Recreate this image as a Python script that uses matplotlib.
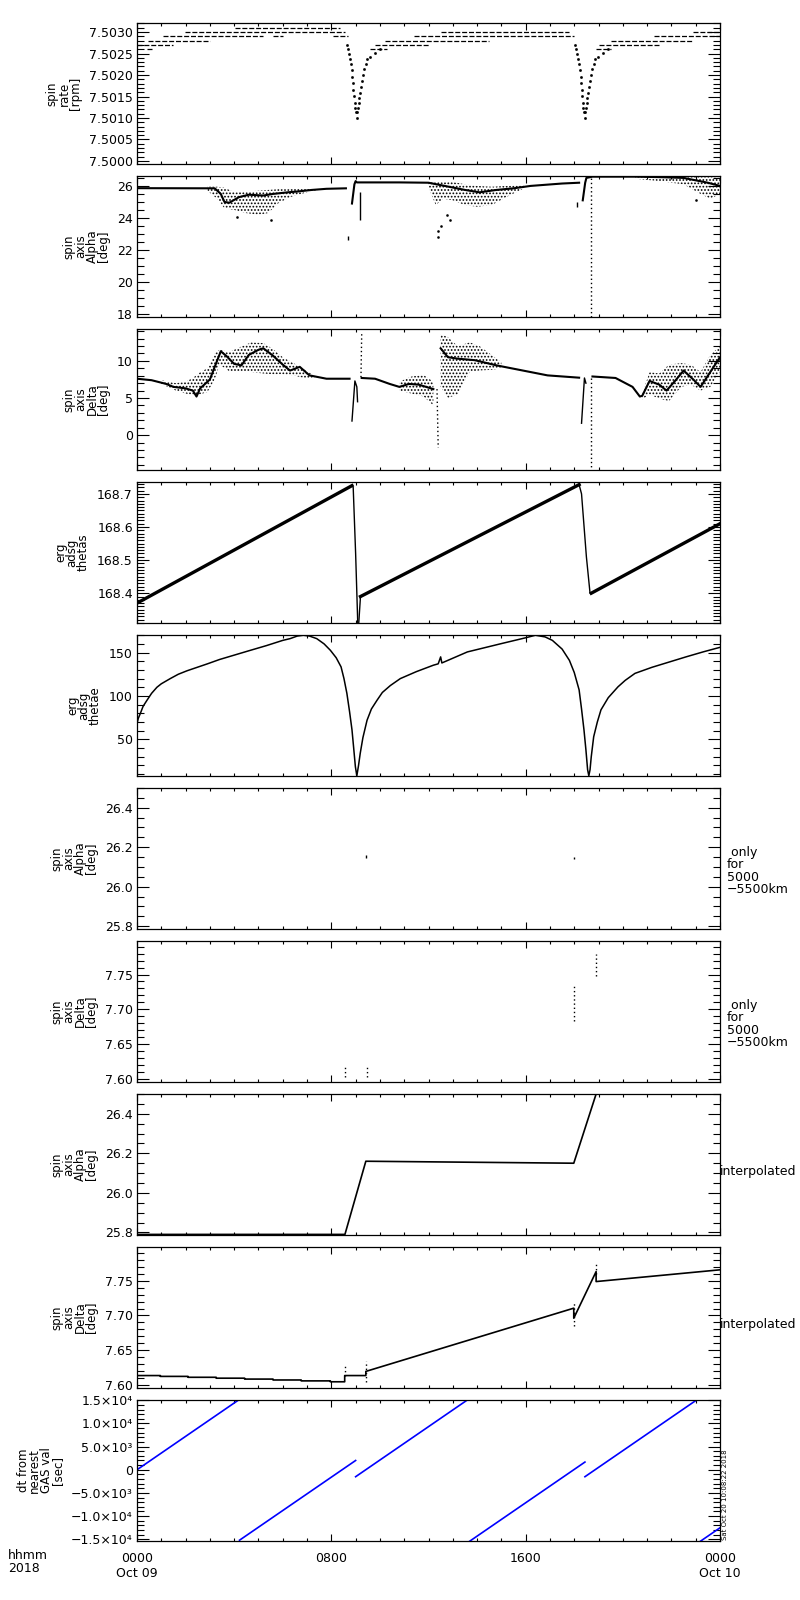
import numpy as np
import matplotlib
matplotlib.use('Agg')
import matplotlib.pyplot as plt
from matplotlib.ticker import MultipleLocator, FixedLocator, FixedFormatter, FormatStrFormatter

plt.rcParams['font.family'] = ['DejaVu Sans']
plt.rcParams['hatch.linewidth'] = 0.8
plt.rcParams['hatch.color'] = 'black'

# time axis in hours from 0000 Oct 09
x_ticks = [0, 8, 16, 24]
x_ticklabels = ['0000\nOct 09', '0800', '1600', '0000\nOct 10']

# ---- panel 1: spin rate (quantized levels: value, start, end)
rate_level = [7.5026, 7.5027, 7.5028, 7.5029, 7.5029, 7.5029, 7.5030, 7.5031,
              7.5026, 7.5027, 7.5028, 7.5029, 7.5030,
              7.5026, 7.5027, 7.5028, 7.5029, 7.5030]
rate_t0 = [0.4, 0.0, 0.47, 1.08, 5.6, 8.08, 1.98, 4.04,
           9.6, 9.8, 10.2, 11.4, 12.5,
           18.9, 19.0, 19.5, 21.3, 22.9]
rate_t1 = [0.67, 1.49, 3.0, 5.2, 6.0, 8.7, 8.56, 8.36,
           10.3, 12.0, 14.5, 18.0, 17.8,
           19.5, 21.5, 22.9, 24.0, 24.0]
dip1_t = [8.63, 8.70, 8.74, 8.77, 8.80, 8.84, 8.87, 8.88, 8.91, 8.93, 8.96, 8.97, 9.00, 9.04,
          9.07, 9.10, 9.13, 9.15, 9.18, 9.22, 9.26, 9.32, 9.36, 9.41, 9.45, 9.59, 9.80, 10.0]
dip2_t = [18.02, 18.09, 18.13, 18.16, 18.19, 18.23, 18.26, 18.27, 18.30, 18.32, 18.35, 18.36, 18.39, 18.43,
          18.46, 18.49, 18.52, 18.54, 18.57, 18.61, 18.65, 18.71, 18.75, 18.80, 18.84, 18.98, 19.19, 19.39]
dip_v = [7.50270, 7.50260, 7.50249, 7.50237, 7.50226, 7.50211, 7.50196, 7.50181, 7.50166, 7.50151,
         7.50135, 7.50124, 7.50113, 7.50101, 7.50113, 7.50124, 7.50135, 7.50147, 7.50158, 7.50173,
         7.50185, 7.50200, 7.50215, 7.50226, 7.50237, 7.50241, 7.50252, 7.50260]

# ---- panel 2: spin axis alpha
alpha_t1 = [0, 3.2, 3.45, 3.6, 3.8, 4.2, 4.6, 5.2, 5.6, 6.2, 6.6, 7.2, 7.8, 8.6]
alpha_v1 = [25.86, 25.85, 25.5, 25.0, 24.95, 25.3, 25.45, 25.4, 25.5, 25.6, 25.65, 25.75, 25.82, 25.85]
alpha_t2 = [8.85, 8.95, 9.0, 9.05, 9.2, 10.8, 12.0, 12.5, 13.0, 13.5, 14.1, 14.8, 15.5, 16.2, 17.5, 18.2]
alpha_v2 = [24.9, 26.1, 26.3, 26.22, 26.22, 26.22, 26.2, 26.05, 25.9, 25.75, 25.6, 25.75, 25.85, 26.0, 26.15, 26.2]
alpha_t3 = [18.35, 18.45, 18.5, 18.75, 20.5, 21.5, 22.5, 23.5, 24.0]
alpha_v3 = [25.1, 26.2, 26.5, 26.58, 26.58, 26.55, 26.5, 26.2, 26.0]
alpha_cloud_t = [[2.9, 3.3, 3.6, 4.0, 4.5, 5.0, 5.4, 5.8, 6.3, 7.0, 7.6],
                 [12.0, 12.3, 12.6, 13.0, 13.5, 14.0, 14.6, 15.2, 16.0],
                 [20.5, 21.5, 22.5, 23.2, 23.6, 24.0]]
alpha_cloud_lo = [[25.7, 25.2, 24.6, 24.5, 24.3, 24.2, 24.3, 24.9, 25.3, 25.6, 25.8],
                  [25.9, 24.8, 25.2, 25.1, 24.8, 24.7, 24.8, 25.3, 25.9],
                  [26.45, 26.3, 26.1, 25.5, 25.2, 25.5]]
alpha_cloud_hi = [[25.95, 25.95, 25.9, 25.6, 25.65, 25.7, 25.75, 25.8, 25.8, 25.85, 25.86],
                  [26.25, 26.25, 26.3, 26.25, 26.1, 26.0, 25.95, 26.0, 26.05],
                  [26.62, 26.62, 26.62, 26.62, 26.55, 26.5]]
alpha_stray_t = [4.1, 5.5, 12.4, 12.4, 12.5, 12.75, 12.9, 23.0]
alpha_stray_v = [24.05, 23.9, 22.8, 23.2, 23.5, 24.2, 23.9, 25.1]
alpha_spike_t = [8.7, 9.2, 18.1]
alpha_spike_lo = [22.6, 23.9, 24.7]
alpha_spike_hi = [22.9, 25.6, 25.0]

# ---- panel 3: spin axis delta
delta_t1 = [0, 0.6, 1.2, 1.5, 2.0, 2.3, 2.45, 2.6, 3.0, 3.2, 3.45, 3.7, 4.0, 4.3, 4.6, 5.0, 5.2,
            5.6, 6.0, 6.3, 6.7, 7.1, 7.8, 8.75]
delta_v1 = [7.6, 7.4, 6.9, 6.5, 6.3, 6.0, 5.2, 6.3, 7.5, 9.2, 11.3, 10.6, 9.6, 9.4, 10.8, 11.5, 11.7,
            10.7, 9.5, 8.7, 9.2, 8.05, 7.6, 7.6]
delta_t2 = [9.25, 9.8, 10.4, 10.8, 11.2, 11.6, 12.0, 12.2]
delta_v2 = [7.7, 7.6, 6.9, 6.5, 6.9, 6.8, 6.4, 6.2]
delta_t3 = [12.5, 12.8, 13.2, 13.9, 14.8, 16.2, 16.9, 18.2]
delta_v3 = [11.7, 10.5, 10.3, 10.1, 9.4, 8.5, 8.05, 7.74]
delta_t4 = [18.75, 19.7, 20.4, 20.7, 20.8, 21.1, 21.5, 21.8, 22.2, 22.5, 22.9, 23.2, 23.6, 24.0]
delta_v4 = [7.9, 7.7, 6.5, 5.2, 5.3, 7.3, 6.8, 6.0, 7.5, 8.7, 7.5, 6.5, 8.5, 10.5]
delta_kick_t = [[8.85, 8.97, 9.05, 9.08], [18.3, 18.42, 18.48]]
delta_kick_v = [[1.9, 7.3, 6.5, 4.5], [1.6, 7.7, 7.0]]
delta_dot_t = [[9.22, 9.25], [12.35, 12.4], [18.7, 18.7]]
delta_dot_v = [[7.8, 13.6], [6.2, -1.7], [7.7, -4.7]]
delta_cloud_t = [[1.0, 1.6, 2.0, 2.3, 2.6, 2.9, 3.2, 3.4, 3.8, 4.2, 4.7, 5.2, 5.6, 6.0, 6.5, 7.0, 7.3],
                 [10.8, 11.3, 11.8, 12.2],
                 [12.5, 12.8, 13.2, 13.7, 14.1, 14.6, 15.0],
                 [20.8, 21.1, 21.5, 21.9, 22.4, 22.8, 23.2, 23.6, 24.0]]
delta_cloud_lo = [[6.9, 6.0, 5.6, 5.4, 5.5, 5.8, 7.5, 9.5, 8.6, 8.6, 8.5, 8.3, 8.2, 8.2, 8.0, 7.6, 7.6],
                  [6.0, 5.6, 5.2, 4.0],
                  [6.5, 5.0, 5.5, 8.5, 8.7, 8.8, 9.0],
                  [4.8, 5.5, 4.9, 4.6, 6.5, 6.8, 6.0, 6.5, 8.5]]
delta_cloud_hi = [[7.4, 7.0, 7.2, 7.7, 8.5, 9.0, 11.0, 11.5, 11.2, 11.8, 12.5, 12.4, 11.6, 10.5, 9.6, 8.6, 8.0],
                  [7.2, 7.9, 8.1, 7.2],
                  [13.6, 13.2, 12.0, 12.5, 12.0, 10.8, 9.8],
                  [5.6, 8.5, 8.3, 9.5, 9.7, 9.5, 8.5, 10.8, 12.0]]

# ---- panel 4: erg adsg thetas
thetas_rise_t = [[0, 8.85], [9.2, 18.2], [18.7, 24.0]]
thetas_rise_v = [[168.37, 168.725], [168.39, 168.728], [168.40, 168.61]]
thetas_drop_t = [[8.85, 8.9, 9.0, 9.1], [9.12, 9.2], [18.2, 18.3, 18.5, 18.65, 18.7]]
thetas_drop_v = [[168.725, 168.72, 168.52, 168.28], [168.30, 168.39], [168.728, 168.70, 168.51, 168.40, 168.40]]

# ---- panel 5: erg adsg thetae
thetae_t = [0, 0.05, 0.14, 0.25, 0.41, 0.6, 0.82, 1.0, 1.37, 1.7, 2.06, 2.9, 3.4, 4.0, 4.6, 5.33,
            6.0, 6.3, 6.6, 6.85, 7.1, 7.4, 7.7, 7.96, 8.2, 8.4, 8.52, 8.64, 8.75, 8.85, 8.92, 8.99,
            9.05, 9.12, 9.19, 9.3, 9.47, 9.65, 9.88, 10.1, 10.43, 10.84, 11.5, 12.2, 12.4, 12.5,
            12.55, 13.6, 15.0, 16.0, 16.4, 16.8, 17.1, 17.5, 17.8, 18.0, 18.2, 18.3, 18.4, 18.48,
            18.55, 18.6, 18.65, 18.7, 18.8, 18.95, 19.1, 19.4, 19.8, 20.1, 20.5, 21.2, 21.9, 22.6,
            23.3, 24.0]
thetae_v = [68, 74, 80, 88, 95, 103, 110, 114, 120, 125, 129, 137, 142, 147, 152, 158,
            164, 166, 169, 169.9, 169, 166, 160, 152.6, 144, 133.5, 120, 103, 82, 61, 40, 18.5,
            8, 20, 34, 52, 72, 85, 95, 104, 112, 120, 128, 135.4, 137, 145,
            138, 150.7, 160.3, 167, 169.9, 168, 164, 154, 141, 127, 107, 85, 61, 38,
            15, 8, 15, 30, 53, 70, 84, 98, 110.5, 118, 126, 133, 139, 145,
            150.7, 156]

# ---- panels 6/7: only for 5000-5500 km
alpha_only_t = [9.42, 18.0]
alpha_only_lo = [26.145, 26.14]
alpha_only_hi = [26.16, 26.15]
delta_only_t = [8.55, 9.45, 17.98, 18.9]
delta_only_lo = [7.603, 7.603, 7.684, 7.748]
delta_only_hi = [7.617, 7.62, 7.734, 7.78]

# ---- panel 8/9: interpolated
alpha_int_t = [0, 8.56, 9.42, 17.98, 18.9, 24.0]
alpha_int_v = [25.79, 25.79, 26.16, 26.15, 26.5, 26.5]
delta_int_t = [0, 0.96, 0.96, 2.1, 2.1, 3.26, 3.26, 4.43, 4.43, 5.6, 5.6, 6.76, 6.76, 7.96, 7.96, 8.55,
               8.55, 9.42, 9.42, 17.98, 17.98, 18.9, 18.9, 24.0]
delta_int_v = [7.613, 7.613, 7.6118, 7.6118, 7.6105, 7.6105, 7.6092, 7.6092, 7.6079, 7.6079, 7.6066,
               7.6066, 7.6053, 7.6053, 7.604, 7.604, 7.613, 7.613, 7.619, 7.7105, 7.696, 7.7634,
               7.749, 7.766]
delta_int_spk_t = [8.55, 9.42, 17.98, 18.9]
delta_int_spk_lo = [7.612, 7.603, 7.684, 7.76]
delta_int_spk_hi = [7.628, 7.634, 7.72, 7.775]

# ---- panel 10: dt from nearest GAS val
dt_seg_t = [[0, 4.2], [4.22, 9.0], [9.0, 13.65], [13.7, 18.44], [18.44, 23.1], [23.2, 24.0]]
dt_seg_v = [[0, 15120], [-15200, 2000], [-1500, 15240], [-15400, 1660], [-1500, 15280], [-15400, -12520]]
dt_ticks = [15000, 10000, 5000, 0, -5000, -10000, -15000]
dt_ticklabels = ['1.5×10⁴', '1.0×10⁴', '5.0×10³', '0', '−5.0×10³', '−1.0×10⁴', '−1.5×10⁴']

labels = ['spin\nrate\n[rpm]', 'spin\naxis\nAlpha\n[deg]', 'spin\naxis\nDelta\n[deg]',
          'erg\nadsg\nthetas', 'erg\nadsg\nthetae', 'spin\naxis\nAlpha\n[deg]',
          'spin\naxis\nDelta\n[deg]', 'spin\naxis\nAlpha\n[deg]', 'spin\naxis\nDelta\n[deg]',
          'dt from\nnearest\nGAS val\n[sec]']
ylims = [(7.49993, 7.50321), (17.81, 26.62), (-4.7, 14.3), (168.31, 168.736), (7.8, 170.2),
         (25.786, 26.5), (7.596, 7.798), (25.787, 26.5), (7.595, 7.799), (-15370, 15050)]
ymajor = [0.0005, 2, 5, 0.1, 50, 0.2, 0.05, 0.2, 0.05, 5000]
yminor = [0.0001, 0.5, 1, 0.01, 10, 0.05, 0.01, 0.05, 0.01, 1000]
yfmt = ['%.4f', '%d', '%d', '%.1f', '%d', '%.1f', '%.2f', '%.1f', '%.2f', None]

fig = plt.figure(figsize=(8, 16), dpi=100)
axes = []
for i in range(10):
    top = 23 + 153 * i
    ax = fig.add_axes([137 / 800, 1 - (top + 141) / 1600, 583 / 800, 141 / 1600])
    ax.set_xlim(0, 24)
    ax.set_ylim(*ylims[i])
    ax.xaxis.set_major_locator(MultipleLocator(8))
    ax.xaxis.set_minor_locator(MultipleLocator(1))
    ax.yaxis.set_major_locator(MultipleLocator(ymajor[i]))
    ax.yaxis.set_minor_locator(MultipleLocator(yminor[i]))
    if yfmt[i]:
        ax.yaxis.set_major_formatter(FormatStrFormatter(yfmt[i]))
    ax.tick_params(which='both', direction='in', top=True, right=True, labelsize=9, width=0.8)
    ax.tick_params(axis='y', which='major', length=8.5, pad=3)
    ax.tick_params(axis='y', which='minor', length=5)
    ax.tick_params(axis='x', which='major', length=5, labelbottom=False)
    ax.tick_params(axis='x', which='minor', length=2.3)
    ax.set_ylabel(labels[i], fontsize=8.5, linespacing=0.85, labelpad=5)
    for s in ax.spines.values():
        s.set_linewidth(0.9)
    axes.append(ax)

# panel 1
ax = axes[0]
ax.hlines(rate_level, rate_t0, rate_t1, colors='black', linestyles=(0, (4, 1.5)), lw=0.9)
ax.plot(dip1_t, dip_v, ls='none', marker='s', ms=0.9, color='black')
ax.plot(dip2_t, dip_v, ls='none', marker='s', ms=0.9, color='black')

# panel 2
ax = axes[1]
for t, lo, hi in zip(alpha_cloud_t, alpha_cloud_lo, alpha_cloud_hi):
    ax.fill_between(t, lo, hi, facecolor='none', edgecolor='black', hatch='.....', lw=0)
ax.plot(alpha_t1, alpha_v1, color='black', lw=1.5)
ax.plot(alpha_t2, alpha_v2, color='black', lw=1.5)
ax.plot(alpha_t3, alpha_v3, color='black', lw=1.5)
ax.vlines(alpha_spike_t, alpha_spike_lo, alpha_spike_hi, colors='black', lw=1.0)
ax.plot([18.7, 18.7], [17.8, 26.5], color='black', lw=1.0, ls=(0, (1, 2)))
ax.plot(alpha_stray_t, alpha_stray_v, ls='none', marker='s', ms=0.8, color='black')

# panel 3
ax = axes[2]
for t, lo, hi in zip(delta_cloud_t, delta_cloud_lo, delta_cloud_hi):
    ax.fill_between(t, lo, hi, facecolor='none', edgecolor='black', hatch='.....', lw=0)
for t, v in [(delta_t1, delta_v1), (delta_t2, delta_v2), (delta_t3, delta_v3), (delta_t4, delta_v4)]:
    ax.plot(t, v, color='black', lw=1.5)
for t, v in zip(delta_kick_t, delta_kick_v):
    ax.plot(t, v, color='black', lw=1.0)
for t, v in zip(delta_dot_t, delta_dot_v):
    ax.plot(t, v, color='black', lw=1.0, ls=(0, (1, 2)))

# panel 4
ax = axes[3]
for t, v in zip(thetas_rise_t, thetas_rise_v):
    ax.plot(t, v, color='black', lw=2.4)
for t, v in zip(thetas_drop_t, thetas_drop_v):
    ax.plot(t, v, color='black', lw=1.0)

# panel 5
axes[4].plot(thetae_t, thetae_v, color='black', lw=1.1)

# panel 6 / 7
axes[5].vlines(alpha_only_t, alpha_only_lo, alpha_only_hi, colors='black', lw=1.0)
axes[6].vlines(delta_only_t, delta_only_lo, delta_only_hi, colors='black', lw=1.0, linestyles=(0, (1, 2)))
for ax in axes[5:7]:
    ax.text(1.012, 0.41, ' only\nfor\n5000\n−5500km', transform=ax.transAxes, ha='left', va='center',
            fontsize=9, linespacing=0.95)

# panel 8 / 9
axes[7].plot(alpha_int_t, alpha_int_v, color='black', lw=1.2)
axes[8].plot(delta_int_t, delta_int_v, color='black', lw=1.2)
axes[8].vlines(delta_int_spk_t, delta_int_spk_lo, delta_int_spk_hi, colors='black', lw=1.0,
               linestyles=(0, (1, 2)))
for ax in axes[7:9]:
    ax.text(1.0, 0.45, 'interpolated', transform=ax.transAxes, ha='left', va='center', fontsize=9)

# panel 10
ax = axes[9]
for t, v in zip(dt_seg_t, dt_seg_v):
    ax.plot(t, v, color='#0000ff', lw=1.2)
ax.yaxis.set_major_locator(FixedLocator(dt_ticks))
ax.yaxis.set_major_formatter(FixedFormatter(dt_ticklabels))
ax.xaxis.set_major_locator(FixedLocator(x_ticks))
ax.xaxis.set_major_formatter(FixedFormatter(x_ticklabels))
ax.tick_params(axis='x', which='major', labelbottom=True, pad=8)
ax.text(1.003, 0.01, 'Sat Oct 20 10:08:22 2018', transform=ax.transAxes, rotation=90,
        ha='left', va='bottom', fontsize=5)

fig.text(8 / 800, 1 - 1549 / 1600, 'hhmm\n2018', ha='left', va='top', fontsize=9, linespacing=0.95)

fig.savefig('out.png', dpi=100)
